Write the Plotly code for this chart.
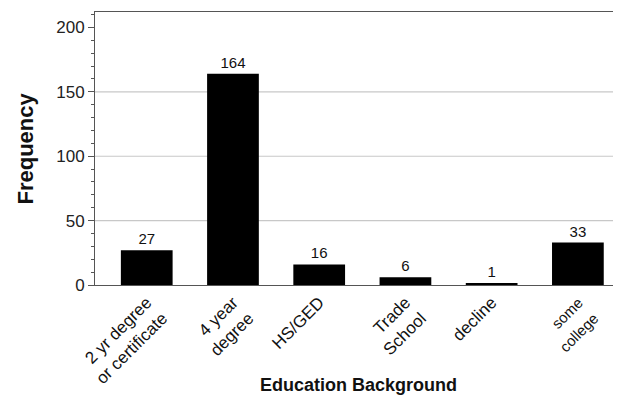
import plotly.graph_objects as go

categories = ["2 yr degree<br>or certificate", "4 year<br>degree", "HS/GED",
              "Trade<br>School", "decline",
              "<span style='font-size:15px'>some<br>college</span>"]
frequency = [27, 164, 16, 6, 1, 33]
y_ticks = [0, 50, 100, 150, 200]
grid_values = [50, 100, 150]
y_range = [0, 212]
x_range = [-0.6, 5.5]

fig = go.Figure()
fig.add_trace(go.Bar(
    x=list(range(len(categories))), y=frequency,
    marker=dict(color="black", line=dict(color="black", width=0)),
    width=0.6,
    text=[str(v) for v in frequency], textposition="outside",
    textfont=dict(family="Liberation Sans, Arial", size=15, color="#111"),
    cliponaxis=False,
))

for g in grid_values:
    fig.add_shape(type="line", xref="x", yref="y",
                  x0=x_range[0], x1=x_range[1], y0=g, y1=g,
                  line=dict(color="#c8c8c8", width=1.2), layer="between")

fig.add_annotation(text="<b>Education Background</b>", xref="paper", yref="paper",
                   x=0.5, y=-0.365, xanchor="center", yanchor="middle",
                   showarrow=False, font=dict(size=18, color="#111"))
fig.add_annotation(text="<b>Frequency</b>", xref="paper", yref="paper",
                   x=-0.133, y=0.5, xanchor="center", yanchor="middle", textangle=-90,
                   showarrow=False, font=dict(size=22, color="#111"))

fig.update_layout(
    width=621, height=404,
    margin=dict(l=87, r=8, t=4, b=127),
    paper_bgcolor="white", plot_bgcolor="white",
    font=dict(family="Liberation Sans, Arial", color="black"),
    showlegend=False,
    bargap=0.4,
    xaxis=dict(
        range=x_range, automargin=False,
        tickmode="array", tickvals=list(range(len(categories))), ticktext=categories,
        tickangle=-45, tickfont=dict(size=17, color="#111"),
        showline=True, linecolor="#555", linewidth=1, mirror=True,
        ticks="", showgrid=False, zeroline=False,
    ),
    yaxis=dict(
        range=y_range, automargin=False,
        tickmode="array", tickvals=y_ticks,
        tickfont=dict(size=17, color="#222"),
        showline=True, linecolor="#555", linewidth=1,
        ticks="outside", ticklen=6, tickcolor="#555",
        minor=dict(dtick=10, ticks="outside", ticklen=3, tickcolor="#555", showgrid=False),
        showgrid=False, zeroline=False,
    ),
)

fig.write_html("out.html")
